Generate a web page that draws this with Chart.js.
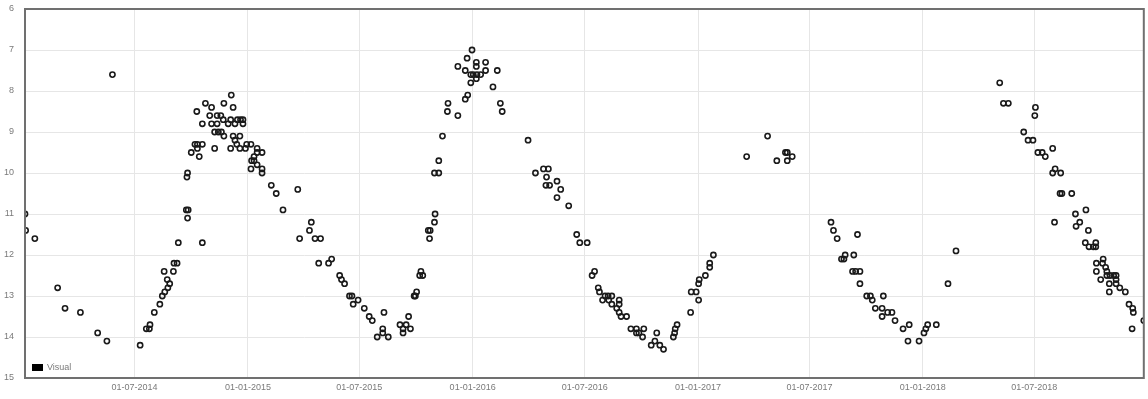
<!DOCTYPE html>
<html>
<head>
<meta charset="utf-8">
<script src="https://cdn.jsdelivr.net/npm/chart.js@4.4.1/dist/chart.umd.min.js"></script>
<style>
  body { margin: 0; background: #fff; }
  canvas { display: block; }
</style>
</head>
<body>
<canvas id="chart" width="1148" height="399"></canvas>
<script>
const seriesLabel = "Visual";

const dates = [
  "2014-01-04", "2014-01-05", "2014-01-20", "2014-02-26", "2014-03-10", "2014-04-04", "2014-05-02", "2014-05-17",
  "2014-05-26", "2014-07-10", "2014-07-20", "2014-07-25", "2014-07-26", "2014-08-02", "2014-08-11", "2014-08-15",
  "2014-08-19", "2014-08-24", "2014-08-27", "2014-08-23", "2014-08-18", "2014-09-02", "2014-09-03", "2014-09-08",
  "2014-09-10", "2014-09-23", "2014-09-24", "2014-09-25", "2014-09-25", "2014-09-26", "2014-10-01", "2014-10-07",
  "2014-10-10", "2014-10-11", "2014-10-11", "2014-10-14", "2014-10-19", "2014-10-19", "2014-10-19", "2014-10-24",
  "2014-10-31", "2014-11-03", "2014-11-03", "2014-11-08", "2014-11-08", "2014-11-12", "2014-11-12", "2014-11-14",
  "2014-11-18", "2014-11-19", "2014-11-22", "2014-11-23", "2014-11-23", "2014-11-30", "2014-12-04", "2014-12-04",
  "2014-12-05", "2014-12-08", "2014-12-08", "2014-12-11", "2014-12-11", "2014-12-14", "2014-12-15", "2014-12-19",
  "2014-12-19", "2014-12-20", "2014-12-24", "2014-12-24", "2014-12-28", "2014-12-30",
  "2015-01-06", "2015-01-06", "2015-01-07", "2015-01-11", "2015-01-11", "2015-01-16", "2015-01-16", "2015-01-16",
  "2015-01-24", "2015-01-24", "2015-01-24", "2015-02-08", "2015-02-16", "2015-02-27", "2015-03-23", "2015-03-26",
  "2015-04-11", "2015-04-14", "2015-04-20", "2015-04-26", "2015-04-29", "2015-05-12", "2015-05-17", "2015-05-30",
  "2015-06-02", "2015-06-07", "2015-06-15", "2015-06-19", "2015-06-21", "2015-06-29", "2015-07-09", "2015-07-17",
  "2015-07-22", "2015-07-30", "2015-08-08", "2015-08-08", "2015-08-10", "2015-08-17", "2015-09-05", "2015-09-10",
  "2015-09-10", "2015-09-15", "2015-09-19", "2015-09-22", "2015-09-28", "2015-09-30", "2015-10-02", "2015-10-07",
  "2015-10-09", "2015-10-12", "2015-10-21", "2015-10-23", "2015-10-24", "2015-10-31", "2015-11-01", "2015-10-31",
  "2015-11-07", "2015-11-07", "2015-11-13", "2015-11-21", "2015-11-22", "2015-12-08", "2015-12-08", "2015-12-20",
  "2015-12-20", "2015-12-23", "2015-12-24", "2015-12-29", "2015-12-29", "2015-12-31",
  "2016-01-02", "2016-01-07", "2016-01-07", "2016-01-07", "2016-01-08", "2016-01-14", "2016-01-22", "2016-01-22",
  "2016-02-03", "2016-02-10", "2016-02-15", "2016-02-18", "2016-03-31", "2016-04-12", "2016-04-25", "2016-04-29",
  "2016-04-30", "2016-05-03", "2016-05-05", "2016-05-17", "2016-05-17", "2016-05-23", "2016-06-05", "2016-06-18",
  "2016-06-23", "2016-07-05", "2016-07-13", "2016-07-17", "2016-07-23", "2016-07-25", "2016-07-30", "2016-08-03",
  "2016-08-08", "2016-08-09", "2016-08-14", "2016-08-14", "2016-08-22", "2016-08-26", "2016-08-26", "2016-08-26",
  "2016-08-29", "2016-09-07", "2016-09-14", "2016-09-23", "2016-09-23", "2016-09-27", "2016-10-03", "2016-10-05",
  "2016-10-17", "2016-10-23", "2016-10-26", "2016-10-31", "2016-11-06", "2016-11-22", "2016-11-24", "2016-11-25",
  "2016-11-28", "2016-12-20", "2016-12-21", "2016-12-29",
  "2017-01-02", "2017-01-02", "2017-01-03", "2017-01-13", "2017-01-20", "2017-01-20", "2017-01-26", "2017-03-21",
  "2017-04-24", "2017-05-09", "2017-05-23", "2017-05-26", "2017-05-26", "2017-06-03", "2017-08-05", "2017-08-09",
  "2017-08-15", "2017-08-22", "2017-08-26", "2017-08-28", "2017-09-09", "2017-09-11", "2017-09-14", "2017-09-17",
  "2017-09-21", "2017-09-21", "2017-10-02", "2017-10-08", "2017-10-11", "2017-10-16", "2017-10-27", "2017-10-27",
  "2017-10-29", "2017-11-05", "2017-11-12", "2017-11-17", "2017-11-30", "2017-12-08", "2017-12-10", "2017-12-26",
  "2018-01-03", "2018-01-06", "2018-01-09", "2018-01-23", "2018-02-11", "2018-02-24", "2018-05-06", "2018-05-12",
  "2018-05-20", "2018-06-14", "2018-06-21", "2018-06-29", "2018-07-02", "2018-07-03", "2018-07-07", "2018-07-14",
  "2018-07-19", "2018-07-31", "2018-07-31", "2018-08-03", "2018-08-04", "2018-08-12", "2018-08-13", "2018-08-15",
  "2018-08-31", "2018-09-06", "2018-09-07", "2018-09-13", "2018-09-22", "2018-09-23", "2018-09-27", "2018-09-28",
  "2018-10-05", "2018-10-09", "2018-10-09", "2018-10-10", "2018-10-10", "2018-10-17", "2018-10-20", "2018-10-21",
  "2018-10-25", "2018-10-27", "2018-10-27", "2018-10-31", "2018-10-31", "2018-11-01", "2018-11-07", "2018-11-11",
  "2018-11-11", "2018-11-11", "2018-11-17", "2018-11-26", "2018-12-02", "2018-12-07", "2018-12-08", "2018-12-09",
  "2018-12-26"
];

const values = [
  11.0, 11.4, 11.6, 12.8, 13.3, 13.4, 13.9, 14.1,
  7.6, 14.2, 13.8, 13.8, 13.7, 13.4, 13.2, 13.0,
  12.9, 12.8, 12.7, 12.6, 12.4, 12.4, 12.2, 12.2,
  11.7, 10.9, 10.1, 10.0, 11.1, 10.9, 9.5, 9.3,
  8.5, 9.3, 9.4, 9.6, 9.3, 8.8, 11.7, 8.3,
  8.6, 8.4, 8.8, 9.0, 9.4, 8.6, 8.8, 9.0,
  8.6, 9.0, 8.7, 8.3, 9.1, 8.8, 8.7, 9.4,
  8.1, 8.4, 9.1, 8.8, 9.2, 9.3, 8.7, 9.1,
  9.4, 8.7, 8.7, 8.8, 9.4, 9.3,
  9.3, 9.9, 9.7, 9.6, 9.7, 9.4, 9.5, 9.8,
  9.5, 9.9, 10.0, 10.3, 10.5, 10.9, 10.4, 11.6,
  11.4, 11.2, 11.6, 12.2, 11.6, 12.2, 12.1, 12.5,
  12.6, 12.7, 13.0, 13.0, 13.2, 13.1, 13.3, 13.5,
  13.6, 14.0, 13.8, 13.9, 13.4, 14.0, 13.7, 13.8,
  13.9, 13.7, 13.5, 13.8, 13.0, 13.0, 12.9, 12.5,
  12.4, 12.5, 11.4, 11.6, 11.4, 11.2, 11.0, 10.0,
  10.0, 9.7, 9.1, 8.5, 8.3, 8.6, 7.4, 8.2,
  7.5, 7.2, 8.1, 7.6, 7.8, 7.0,
  7.6, 7.3, 7.4, 7.7, 7.6, 7.6, 7.3, 7.5,
  7.9, 7.5, 8.3, 8.5, 9.2, 10.0, 9.9, 10.3,
  10.1, 9.9, 10.3, 10.2, 10.6, 10.4, 10.8, 11.5,
  11.7, 11.7, 12.5, 12.4, 12.8, 12.9, 13.1, 13.0,
  13.0, 13.1, 13.0, 13.2, 13.3, 13.1, 13.2, 13.4,
  13.5, 13.5, 13.8, 13.8, 13.9, 13.9, 14.0, 13.8,
  14.2, 14.1, 13.9, 14.2, 14.3, 14.0, 13.9, 13.8,
  13.7, 13.4, 12.9, 12.9,
  13.1, 12.7, 12.6, 12.5, 12.3, 12.2, 12.0, 9.6,
  9.1, 9.7, 9.5, 9.5, 9.7, 9.6, 11.2, 11.4,
  11.6, 12.1, 12.1, 12.0, 12.4, 12.0, 12.4, 11.5,
  12.4, 12.7, 13.0, 13.0, 13.1, 13.3, 13.3, 13.5,
  13.0, 13.4, 13.4, 13.6, 13.8, 14.1, 13.7, 14.1,
  13.9, 13.8, 13.7, 13.7, 12.7, 11.9, 7.8, 8.3,
  8.3, 9.0, 9.2, 9.2, 8.6, 8.4, 9.5, 9.5,
  9.6, 9.4, 10.0, 11.2, 9.9, 10.5, 10.0, 10.5,
  10.5, 11.0, 11.3, 11.2, 11.7, 10.9, 11.4, 11.8,
  11.8, 11.7, 11.8, 12.2, 12.4, 12.6, 12.2, 12.1,
  12.3, 12.4, 12.5, 12.7, 12.9, 12.5, 12.5, 12.5,
  12.6, 12.7, 12.8, 12.9, 13.2, 13.8, 13.3, 13.4,
  13.6
];

const tickDates = [
  "2014-07-01", "2015-01-01", "2015-07-01", "2016-01-01", "2016-07-01",
  "2017-01-01", "2017-07-01", "2018-01-01", "2018-07-01"
];

const yMin = 6;
const yMax = 15;

function toTime(s) {
  const p = s.split("-").map(Number);
  return Date.UTC(p[0], p[1] - 1, p[2]);
}

function formatDate(t) {
  const d = new Date(t);
  const dd = String(d.getUTCDate()).padStart(2, "0");
  const mm = String(d.getUTCMonth() + 1).padStart(2, "0");
  return dd + "-" + mm + "-" + d.getUTCFullYear();
}

const points = dates.map((s, i) => ({ x: toTime(s), y: values[i] }));
const times = points.map(p => p.x);

const labelFont = { family: "'Liberation Sans', Arial, sans-serif", size: 9 };
const labelColor = "#7a7a7a";

// frame around the plot and the small legend inside its lower left corner
const framePlugin = {
  id: "frame",
  afterDraw(chart) {
    const { ctx, chartArea } = chart;
    ctx.save();
    ctx.strokeStyle = "#707070";
    ctx.lineWidth = 2;
    ctx.strokeRect(chartArea.left, chartArea.top, chartArea.right - chartArea.left, chartArea.bottom - chartArea.top);

    const lx = chartArea.left + 7;
    const ly = chartArea.bottom - 14;
    ctx.fillStyle = "#000";
    ctx.fillRect(lx, ly, 11, 7);
    ctx.fillStyle = labelColor;
    ctx.font = "9px 'Liberation Sans', Arial, sans-serif";
    ctx.textBaseline = "middle";
    ctx.fillText(seriesLabel, lx + 15, ly + 4);
    ctx.restore();
  }
};

new Chart(document.getElementById("chart"), {
  type: "scatter",
  data: {
    datasets: [{
      label: seriesLabel,
      data: points,
      pointRadius: 2.6,
      pointBorderWidth: 1.6,
      borderColor: "#1a1a1a",
      backgroundColor: "rgba(255,255,255,0)",
      pointHoverRadius: 2.6
    }]
  },
  options: {
    responsive: false,
    animation: false,
    devicePixelRatio: 1,
    layout: { padding: { top: 9, right: 1, left: 0, bottom: 0 } },
    plugins: {
      legend: { display: false },
      tooltip: { enabled: false }
    },
    scales: {
      x: {
        type: "linear",
        min: Math.min(...times),
        max: Math.max(...times),
        afterBuildTicks: (axis) => {
          axis.ticks = tickDates.map(s => ({ value: toTime(s) }));
        },
        afterFit: (axis) => { axis.height = 21; },
        grid: { color: "#e6e6e6", drawTicks: false },
        border: { display: false },
        ticks: {
          autoSkip: false,
          maxRotation: 0,
          padding: 4,
          font: labelFont,
          color: labelColor,
          callback: (v) => formatDate(v)
        }
      },
      y: {
        reverse: true,
        min: yMin,
        max: yMax,
        afterFit: (axis) => { axis.width = 25; },
        grid: { color: "#e6e6e6", tickLength: 8, tickColor: "rgba(0,0,0,0)" },
        border: { display: false },
        ticks: {
          stepSize: 1,
          padding: 3,
          font: labelFont,
          color: labelColor
        }
      }
    }
  },
  plugins: [framePlugin]
});
</script>
</body>
</html>
